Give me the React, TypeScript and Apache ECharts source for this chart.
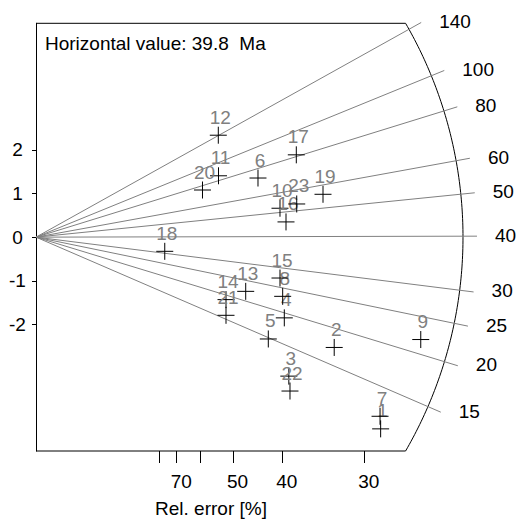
import { useEffect, useRef } from "react";
import * as echarts from "echarts";

// Central (horizontal) value of the radial plot, Ma
const centralAge = 39.8;

// Single-grain results
const grainIds = ["1", "2", "3", "4", "5", "6", "7", "8", "9", "10", "11", "12", "13", "14", "15", "16", "17", "18", "19", "20", "21", "22", "23"];
const grainAges = [11.34, 17.27, 11.51, 19.11, 14.8, 72.6, 12.29, 23.16, 21.83, 52.0, 85.0, 140.6, 22.21, 18.95, 27.27, 45.67, 81.25, 31.05, 55.75, 75.4, 15.73, 10.14, 53.04];
const grainRelErrors = [28.58, 33.03, 38.96, 39.67, 42.4, 44.37, 28.63, 39.93, 25.6, 40.37, 53.97, 54.03, 46.97, 51.84, 40.37, 39.4, 37.84, 76.5, 34.32, 59.16, 51.84, 38.78, 37.78];

// Axis / scale ticks
const arcTickAges = [15, 20, 25, 30, 40, 50, 60, 80, 100, 140];
const relErrTicks = [80, 70, 60, 50, 40, 30];
const relErrLabels = [70, 50, 40, 30];
const zTicks = [-2, -1, 0, 1, 2];

const FONT = "'Liberation Sans', Arial, Helvetica, sans-serif";
const FS = 19;
const XMAX = 4.8;
const YMAX = 4.9;
const ARC_X = 4.335; // arc radius expressed in precision units
const GREY = "#808080";

export default function App() {
  const ref = useRef<HTMLDivElement>(null);
  useEffect(() => {
    if (!ref.current) return;
    const chart = echarts.init(ref.current, undefined, { renderer: "svg" });

    const points = grainIds.map((id, i) => {
      const x = 100 / grainRelErrors[i];
      const z = Math.log(grainAges[i] / centralAge) * x;
      return [x, z, id];
    });

    const option: any = {
      animation: false,
      grid: { left: 36, top: 23.3, width: XMAX * 98.5, height: 427.7 },
      xAxis: {
        type: "value",
        min: 0,
        max: XMAX,
        axisLine: { show: false, onZero: false },
        splitLine: { show: false },
        axisTick: {
          show: true,
          customValues: relErrTicks.map((v) => 100 / v),
          length: 12,
          lineStyle: { color: "#000", width: 1 },
        },
        axisLabel: {
          customValues: relErrLabels.map((v) => 100 / v),
          formatter: (v: number) => String(Math.round(100 / v)),
          fontSize: FS,
          fontFamily: FONT,
          color: "#000",
          margin: 21,
          padding: [0, 0, 0, 9],
        },
      },
      yAxis: {
        type: "value",
        min: -YMAX,
        max: YMAX,
        axisLine: { show: true, onZero: false, lineStyle: { color: "#000", width: 1 } },
        splitLine: { show: false },
        axisTick: {
          show: true,
          customValues: zTicks,
          length: 4,
          lineStyle: { color: "#000", width: 1 },
        },
        axisLabel: {
          customValues: zTicks,
          fontSize: FS,
          fontFamily: FONT,
          color: "#000",
          align: "center",
          margin: 18.5,
        },
      },
      graphic: [
        {
          type: "text",
          x: 45,
          y: 43,
          style: { text: "Horizontal value: 39.8\u00a0 Ma", fontSize: FS, fontFamily: FONT, fill: "#000", align: "left", verticalAlign: "middle" },
        },
        {
          type: "text",
          x: 211,
          y: 508,
          style: { text: "Rel. error [%]", fontSize: FS, fontFamily: FONT, fill: "#000", align: "center", verticalAlign: "middle" },
        },
      ],
      series: [
        {
          type: "custom",
          coordinateSystem: "cartesian2d",
          data: [[0, 0]],
          clip: false,
          silent: true,
          renderItem: (params: any, api: any) => {
            const o = api.coord([0, 0]);
            const xUnit = api.coord([1, 0])[0] - o[0];
            const R = ARC_X * xUnit;
            const top = api.coord([0, YMAX]);
            const bot = api.coord([0, -YMAX]);
            const halfH = o[1] - top[1];
            const phi = Math.asin(Math.min(1, halfH / R));
            const children: any[] = [];
            const cornerX = o[0] + R * Math.cos(phi);
            children.push({ type: "line", shape: { x1: top[0], y1: top[1], x2: cornerX, y2: top[1] }, style: { stroke: "#000", lineWidth: 1 } });
            children.push({ type: "line", shape: { x1: bot[0], y1: bot[1], x2: cornerX, y2: bot[1] }, style: { stroke: "#000", lineWidth: 1 } });
            const arcPts: number[][] = [];
            const n = 120;
            for (let k = 0; k <= n; k++) {
              const a = -phi + (2 * phi * k) / n;
              arcPts.push([o[0] + R * Math.cos(a), o[1] - R * Math.sin(a)]);
            }
            children.push({ type: "polyline", shape: { points: arcPts }, style: { stroke: "#000", lineWidth: 1, fill: "none" } });
            arcTickAges.forEach((t) => {
              const p = api.coord([1, Math.log(t / centralAge)]);
              let dx = p[0] - o[0];
              let dy = p[1] - o[1];
              const len = Math.sqrt(dx * dx + dy * dy);
              dx /= len;
              dy /= len;
              const ex = o[0] + dx * (R + 14);
              const ey = o[1] + dy * (R + 14);
              children.push({
                type: "line",
                shape: { x1: o[0], y1: o[1], x2: ex, y2: ey },
                style: { stroke: GREY, lineWidth: 1 },
              });
              children.push({
                type: "text",
                style: {
                  text: String(t),
                  x: ex + 18,
                  y: ey - 1,
                  fontSize: FS,
                  fontFamily: FONT,
                  fill: "#000",
                  align: "left",
                  verticalAlign: "middle",
                },
              });
            });
            return { type: "group", children };
          },
        },
        {
          type: "custom",
          coordinateSystem: "cartesian2d",
          data: points,
          clip: false,
          silent: true,
          encode: { x: 0, y: 1 },
          renderItem: (params: any, api: any) => {
            const c = api.coord([api.value(0), api.value(1)]);
            const h = 8.5;
            const id = grainIds[params.dataIndex];
            return {
              type: "group",
              children: [
                { type: "line", shape: { x1: c[0] - h, y1: c[1], x2: c[0] + h, y2: c[1] }, style: { stroke: "#000", lineWidth: 1 } },
                { type: "line", shape: { x1: c[0], y1: c[1] - h, x2: c[0], y2: c[1] + h }, style: { stroke: "#000", lineWidth: 1 } },
                {
                  type: "text",
                  style: {
                    text: id,
                    x: c[0] + 2,
                    y: c[1] - 18,
                    fontSize: FS,
                    fontFamily: FONT,
                    fill: GREY,
                    align: "center",
                    verticalAlign: "middle",
                  },
                },
              ],
            };
          },
        },
      ],
    };
    chart.setOption(option);
    return () => chart.dispose();
  }, []);
  return <div ref={ref} style={{ position: "fixed", left: 0, top: 0, width: 522, height: 520, background: "#fff" }} />;
}
